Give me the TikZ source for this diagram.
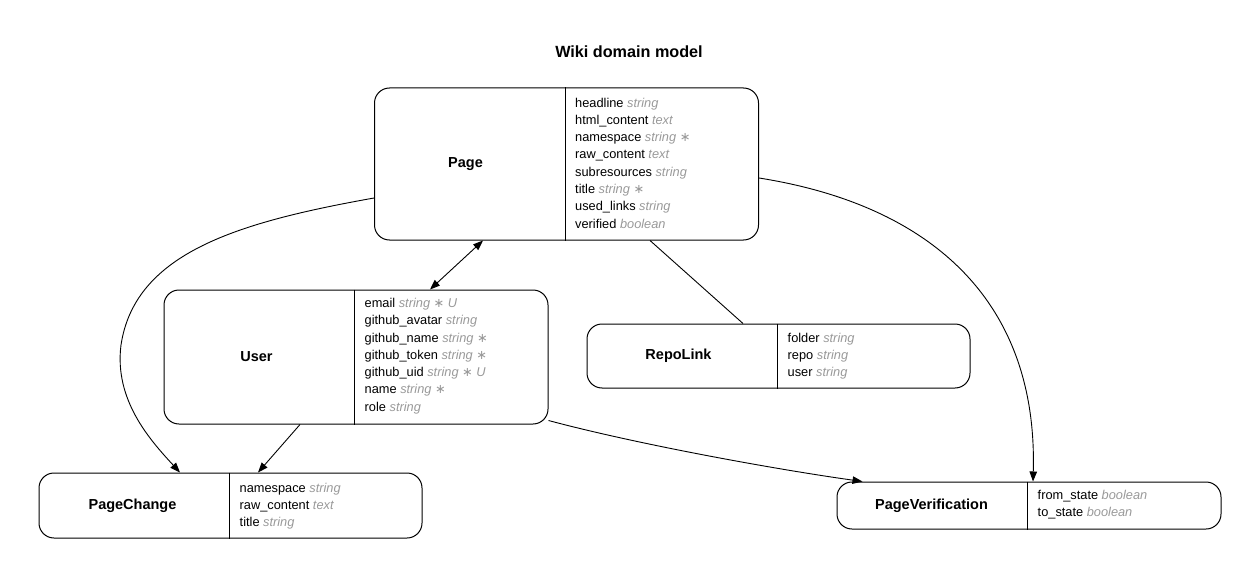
\documentclass[tikz,border=0pt]{standalone}
\usepackage{fontspec}
\setmainfont{Liberation Sans}
\newfontfamily\symfont{DejaVu Sans}
\usetikzlibrary{arrows.meta,calc}
\definecolor{typegray}{HTML}{999999}
\newcommand{\ty}[1]{{\color{typegray}\itshape #1}}
\newcommand{\reqd}{ {\color{typegray}\symfont ∗}}
\newcommand{\uniq}{ {\color{typegray}\itshape U}}
\begin{document}
\begin{tikzpicture}[x=1pt,y=-1pt,
  entity/.style={draw, rounded corners=15pt, line width=1pt, inner sep=0pt},
  divider/.style={line width=1pt},
  ename/.style={font=\fontsize{14.5}{17}\selectfont\bfseries, inner sep=0pt},
  attrs/.style={anchor=west, align=left, inner sep=0pt, font=\fontsize{12.8}{17.3}\selectfont},
  rel/.style={line width=0.9pt},
  tip/.tip={Triangle[length=10pt,width=7.5pt]},
  arr/.style={rel, -tip},
]
\useasboundingbox (0,0) rectangle (1259,578);

\node[font=\fontsize{16.2}{19}\selectfont\bfseries] (title) at (629,52) {Wiki domain model};

% Page
\node[entity, minimum width=384pt, minimum height=152pt] (page) at (566.5,164) {};
\draw[divider] ($(page.north west)+(191.5,0)$) -- ($(page.south west)+(191.5,0)$);
\node[ename] (pagename) at ($(page.west)+(91.5,0)$) {Page};
\node[attrs] (pageattrs) at ($(page.north west)+(201,75.5)$) {headline \ty{string}\\html\_content \ty{text}\\namespace \ty{string}\reqd\\raw\_content \ty{text}\\subresources \ty{string}\\title \ty{string}\reqd\\used\_links \ty{string}\\verified \ty{boolean}};

% User
\node[entity, minimum width=384pt, minimum height=134pt] (user) at (356,357) {};
\draw[divider] ($(user.north west)+(191,0)$) -- ($(user.south west)+(191,0)$);
\node[ename] (username) at ($(user.west)+(93,0)$) {User};
\node[attrs] (userattrs) at ($(user.north west)+(201,66.5)$) {email \ty{string}\reqd\uniq\\github\_avatar \ty{string}\\github\_name \ty{string}\reqd\\github\_token \ty{string}\reqd\\github\_uid \ty{string}\reqd\uniq\\name \ty{string}\reqd\\role \ty{string}};

% RepoLink
\node[entity, minimum width=383pt, minimum height=64pt] (repolink) at (778.5,356) {};
\draw[divider] ($(repolink.north west)+(191,0)$) -- ($(repolink.south west)+(191,0)$);
\node[ename] (repolinkname) at ($(repolink.west)+(92,0)$) {RepoLink};
\node[attrs] (repolinkattrs) at ($(repolink.north west)+(201,32.5)$) {folder \ty{string}\\repo \ty{string}\\user \ty{string}};

% PageChange
\node[entity, minimum width=383pt, minimum height=65pt] (pagechange) at (230.5,505.5) {};
\draw[divider] ($(pagechange.north west)+(191,0)$) -- ($(pagechange.south west)+(191,0)$);
\node[ename] (pagechangename) at ($(pagechange.west)+(94,0)$) {PageChange};
\node[attrs] (pagechangeattrs) at ($(pagechange.north west)+(201,33.5)$) {namespace \ty{string}\\raw\_content \ty{text}\\title \ty{string}};

% PageVerification
\node[entity, minimum width=384pt, minimum height=47pt] (pageverif) at (1029,505.5) {};
\draw[divider] ($(pageverif.north west)+(191,0)$) -- ($(pageverif.south west)+(191,0)$);
\node[ename] (pageverifname) at ($(pageverif.west)+(95,0)$) {PageVerification};
\node[attrs] (pageverifattrs) at ($(pageverif.north west)+(201,23)$) {from\_state \ty{boolean}\\to\_state \ty{boolean}};

% Relations
\draw[rel, tip-tip] ($(page.south)+(-83.5,0)$) -- ($(user.north)+(74,0)$);
\draw[rel] ($(page.south)+(83.5,0)$) -- ($(repolink.north)+(-35.5,0)$);
\draw[arr] ($(user.south)+(-56,0)$) -- ($(pagechange.north)+(27.5,0)$);
\draw[arr] ($(page.west)+(0,34)$) .. controls (240,222) and (135,252) .. (121,345)
  .. controls (114,400) and (150,440) .. ($(pagechange.north)+(-50.5,0)$);
\draw[arr] ($(user.south east)+(0,-4)$) .. controls (640,445) and (780,470) .. ($(pageverif.north west)+(26,0)$);
\draw[arr] ($(page.east)+(0,14)$) .. controls (930,205) and (1038,300) .. ($(pageverif.north)+(4,0)$);
\end{tikzpicture}
\end{document}
